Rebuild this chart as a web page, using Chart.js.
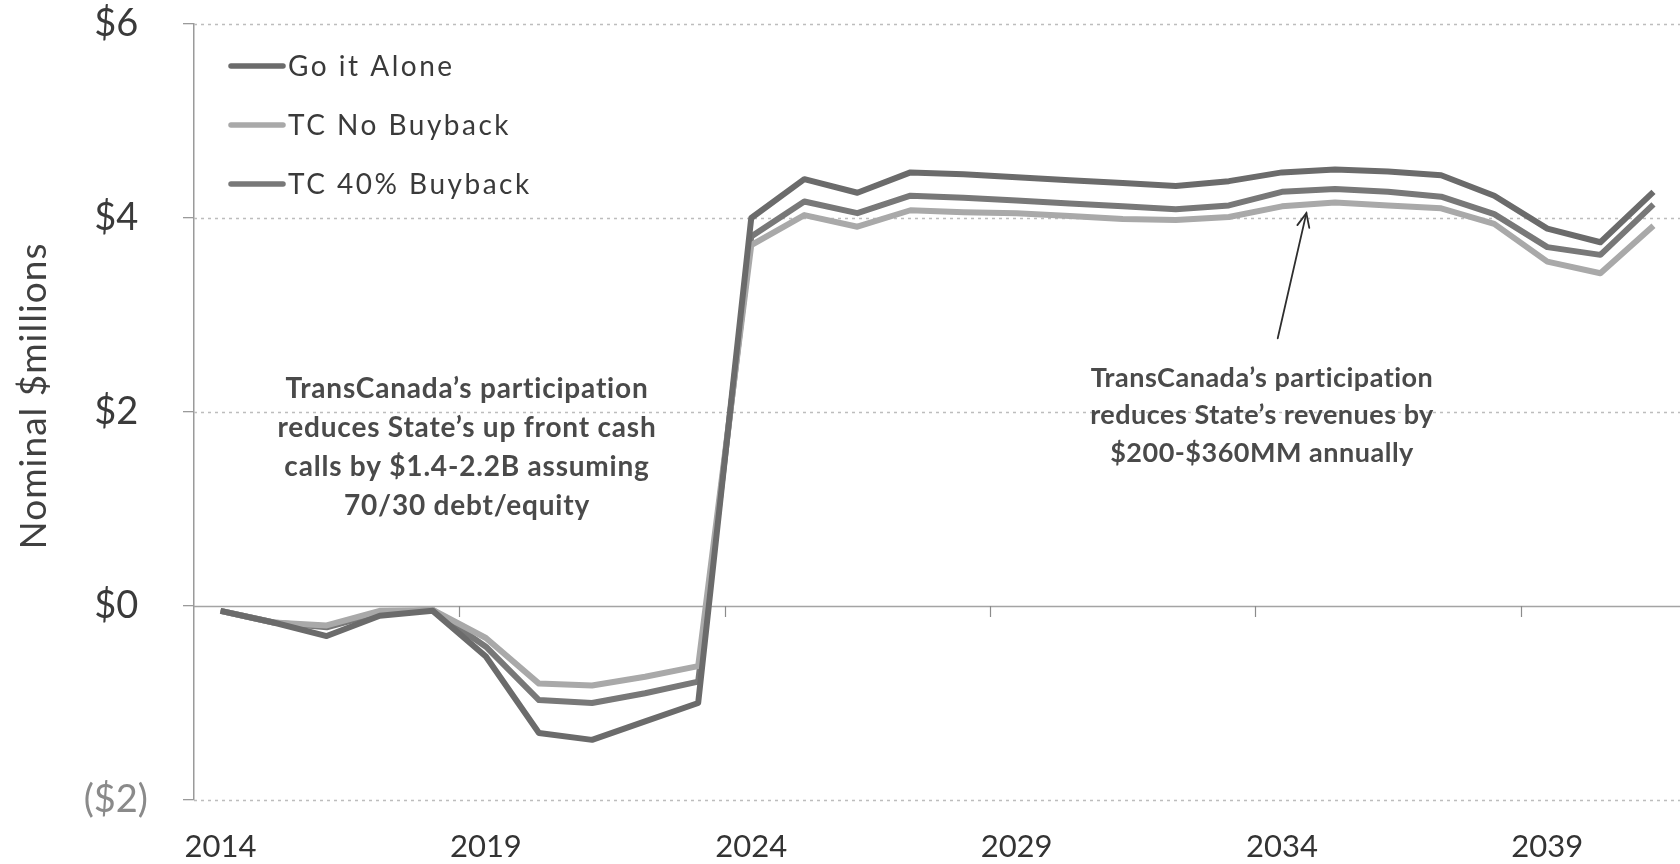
<!DOCTYPE html>
<html>
<head>
<meta charset="utf-8">
<title>Nominal $millions</title>
<script src="https://cdn.jsdelivr.net/npm/chart.js@4.4.1/dist/chart.umd.min.js"></script>
<style>
  html, body { margin: 0; padding: 0; background: #ffffff; }
  #wrap { width: 1680px; height: 864px; }
</style>
</head>
<body>
<div id="wrap"><canvas id="chart" width="1680" height="864"></canvas></div>
<script>
// Fiscal years on the category axis
const years = [2014, 2015, 2016, 2017, 2018, 2019, 2020, 2021, 2022, 2023,
               2024, 2025, 2026, 2027, 2028, 2029, 2030, 2031, 2032, 2033,
               2034, 2035, 2036, 2037, 2038, 2039, 2040, 2041];

// State cash flow, nominal $ (millions axis label as shown)
const goItAlone = [-0.05, -0.17, -0.31, -0.10, -0.05, -0.52, -1.31, -1.38, -1.19, -1.00,
                   4.00, 4.40, 4.26, 4.47, 4.45, 4.42, 4.39, 4.36, 4.33, 4.38,
                   4.47, 4.50, 4.48, 4.44, 4.23, 3.89, 3.75, 4.27];
const tcNoBuyback = [-0.05, -0.17, -0.20, -0.05, -0.04, -0.33, -0.80, -0.82, -0.73, -0.62,
                     3.72, 4.03, 3.91, 4.08, 4.06, 4.05, 4.02, 3.99, 3.98, 4.01,
                     4.12, 4.16, 4.13, 4.10, 3.94, 3.55, 3.43, 3.92];
const tc40Buyback = [-0.05, -0.17, -0.22, -0.07, -0.04, -0.42, -0.97, -1.00, -0.90, -0.78,
                     3.81, 4.17, 4.05, 4.23, 4.21, 4.18, 4.15, 4.12, 4.09, 4.13,
                     4.27, 4.30, 4.27, 4.22, 4.04, 3.70, 3.62, 4.14];

// Value axis
const yTicks = [-2, 0, 2, 4, 6];
const yMin = -2, yMax = 6;

// Series names and colours
const seriesNames = ['Go it Alone', 'TC No Buyback', 'TC 40% Buyback'];
const seriesColors = ['#6b6b6b', '#a9a9a9', '#787878'];

// Call-out texts
const leftNote = ["TransCanada\u2019s participation", "reduces State\u2019s up front cash",
                  "calls by $1.4-2.2B assuming", "70/30 debt/equity"];
const rightNote = ["TransCanada\u2019s participation", "reduces State\u2019s revenues by",
                   "$200-$360MM annually"];

const FONT = 'Lato, "Open Sans", sans-serif';

// Accounting style: negatives in parentheses, positives padded to line up
function money(v) {
  return v < 0 ? '($' + Math.abs(v) + ')' : '$' + v + ' ';
}

// Dotted grid, solid zero line, x tick marks on the zero line
const gridPlugin = {
  id: 'gridLines',
  beforeDatasetsDraw(chart) {
    const { ctx, chartArea, scales } = chart;
    const x = scales.x, y = scales.y;
    ctx.save();
    yTicks.forEach(v => {
      const py = Math.round(y.getPixelForValue(v)) + 0.5;
      ctx.beginPath();
      if (v === 0) {
        ctx.setLineDash([]);
        ctx.strokeStyle = '#a4a4a4';
        ctx.lineWidth = 1.5;
      } else {
        ctx.setLineDash([3, 4]);
        ctx.strokeStyle = '#bdbdbd';
        ctx.lineWidth = 1.5;
      }
      ctx.moveTo(chartArea.left, py);
      ctx.lineTo(chartArea.right, py);
      ctx.stroke();
    });
    ctx.setLineDash([]);
    const zy = y.getPixelForValue(0);
    ctx.strokeStyle = '#8c8c8c';
    ctx.lineWidth = 1.2;
    for (let i = 5; i < years.length; i += 5) {
      const px = Math.round((x.getPixelForValue(i - 1) + x.getPixelForValue(i)) / 2) + 0.5;
      ctx.beginPath();
      ctx.moveTo(px, zy);
      ctx.lineTo(px, zy + 11);
      ctx.stroke();
    }
    ctx.restore();
  }
};

// Legend inside the plot, axis title and call-outs
const notesPlugin = {
  id: 'notes',
  afterDatasetsDraw(chart) {
    const { ctx, scales } = chart;
    const x = scales.x, y = scales.y;
    ctx.save();

    // legend
    const rowsY = [66, 125, 184];
    ctx.font = '28px ' + FONT;
    ctx.letterSpacing = '2.5px';
    ctx.textBaseline = 'middle';
    ctx.textAlign = 'left';
    seriesNames.forEach((name, i) => {
      const ry = rowsY[i];
      ctx.strokeStyle = seriesColors[i];
      ctx.lineWidth = 5.5;
      ctx.lineCap = 'round';
      ctx.beginPath();
      ctx.moveTo(231, ry);
      ctx.lineTo(283, ry);
      ctx.stroke();
      ctx.fillStyle = '#3a3a3a';
      ctx.fillText(name, 288, ry + 1);
    });

    // y-axis title
    ctx.save();
    ctx.translate(34, 396);
    ctx.rotate(-Math.PI / 2);
    ctx.font = '37px ' + FONT;
    ctx.letterSpacing = '1px';
    ctx.textAlign = 'center';
    ctx.textBaseline = 'middle';
    ctx.fillStyle = '#404040';
    ctx.fillText('Nominal $millions', 0, 0);
    ctx.restore();

    // call-out texts
    ctx.fillStyle = '#4a4a4a';
    ctx.textAlign = 'center';
    ctx.textBaseline = 'middle';
    ctx.font = 'bold 28px ' + FONT;
    ctx.letterSpacing = '0.8px';
    leftNote.forEach((t, i) => ctx.fillText(t, 467, 389 + i * 39));
    ctx.font = 'bold 27px ' + FONT;
    ctx.letterSpacing = '0.5px';
    rightNote.forEach((t, i) => ctx.fillText(t, 1262, 378 + i * 37.5));

    // arrow toward the TC No Buyback line
    const px = (idx) => {
      const a = Math.floor(idx), f = idx - a;
      return x.getPixelForValue(a) + f * (x.getPixelForValue(a + 1) - x.getPixelForValue(a));
    };
    const tx = px(20.46), ty = y.getPixelForValue(4.05);
    const sx = px(19.92), sy = y.getPixelForValue(2.76);
    ctx.strokeStyle = '#2e2e2e';
    ctx.lineWidth = 1.8;
    ctx.lineCap = 'round';
    ctx.beginPath();
    ctx.moveTo(sx, sy);
    ctx.lineTo(tx, ty);
    ctx.stroke();
    const ang = Math.atan2(ty - sy, tx - sx);
    const hl = 15, ha = 0.42;
    ctx.beginPath();
    ctx.moveTo(tx - hl * Math.cos(ang - ha), ty - hl * Math.sin(ang - ha));
    ctx.lineTo(tx, ty);
    ctx.lineTo(tx - hl * Math.cos(ang + ha), ty - hl * Math.sin(ang + ha));
    ctx.stroke();

    ctx.restore();
  }
};

const datasets = [goItAlone, tcNoBuyback, tc40Buyback].map((d, i) => ({
  label: seriesNames[i],
  data: d,
  borderColor: seriesColors[i],
  backgroundColor: seriesColors[i],
  borderWidth: 6,
  pointRadius: 0,
  tension: 0,
  fill: false,
  borderJoinStyle: 'round',
  borderCapStyle: 'butt'
}));

new Chart(document.getElementById('chart'), {
  type: 'line',
  data: { labels: years.map(String), datasets },
  options: {
    responsive: false,
    animation: false,
    devicePixelRatio: 1,
    layout: { padding: { top: 24, left: 0, right: 0, bottom: 0 } },
    plugins: { legend: { display: false }, tooltip: { enabled: false } },
    scales: {
      x: {
        type: 'category',
        offset: true,
        grid: { display: false, drawTicks: false },
        border: { display: false },
        ticks: {
          autoSkip: false,
          maxRotation: 0,
          minRotation: 0,
          padding: 28,
          color: '#333333',
          font: { family: FONT, size: 31 },
          callback: (v, i) => (i % 5 === 0 ? String(years[i]) : '')
        },
        afterFit: s => { s.height = 64; s.paddingLeft = 0; s.paddingRight = 0; }
      },
      y: {
        min: yMin,
        max: yMax,
        afterBuildTicks: s => { s.ticks = yTicks.map(v => ({ value: v })); },
        grid: { drawOnChartArea: false, drawTicks: true, tickLength: 11, color: '#9a9a9a', lineWidth: 1.3 },
        border: { display: true, color: '#9a9a9a', width: 1.5 },
        ticks: {
          padding: 35,
          font: { family: FONT, size: 38 },
          color: ctx => (ctx.tick && ctx.tick.value < 0 ? '#8a8a8a' : '#3a3a3a'),
          callback: v => money(v)
        },
        afterFit: s => { s.width = 194; s.paddingTop = 0; s.paddingBottom = 0; }
      }
    }
  },
  plugins: [gridPlugin, notesPlugin]
});
</script>
</body>
</html>
